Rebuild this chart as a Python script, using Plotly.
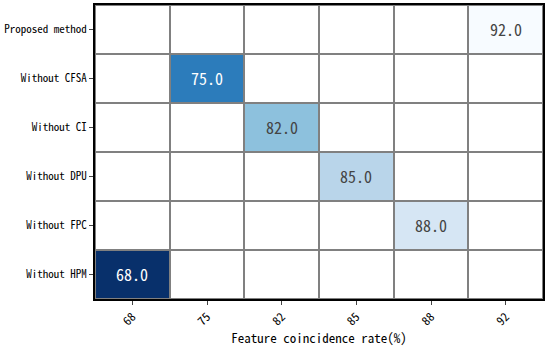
import plotly.graph_objects as go

methods = ["Proposed method", "Without CFSA", "Without CI", "Without DPU", "Without FPC", "Without HPM"]
rates = ["68", "75", "82", "85", "88", "92"]
method_rate = ["92", "75", "82", "85", "88", "68"]
method_value = [92.0, 75.0, 82.0, 85.0, 88.0, 68.0]

z = []
for m, r, v in zip(methods, method_rate, method_value):
    z.append([v if c == r else None for c in rates])

font_fam = "Noto Sans Mono CJK SC, Noto Sans CJK SC, DejaVu Sans Mono, monospace"

fig = go.Figure()
fig.add_trace(go.Heatmap(
    x=rates, y=methods, z=[[0] * len(rates) for _ in methods],
    colorscale=[[0, "white"], [1, "white"]], showscale=False,
    xgap=2, ygap=2, hoverinfo="skip"))
fig.add_trace(go.Heatmap(
    x=rates, y=methods, z=z, colorscale="Blues", reversescale=True,
    zmin=68, zmax=92, showscale=False, xgap=2, ygap=2,
    texttemplate="%{z:.1f}", textfont=dict(size=16, family=font_fam)))

fig.update_layout(
    width=550, height=349,
    margin=dict(l=95, r=7, t=5, b=50, autoexpand=False),
    plot_bgcolor="#808080", paper_bgcolor="white",
    font=dict(family=font_fam, color="black"),
)
fig.update_xaxes(type="category", tickangle=-45, ticks="outside", ticklen=4,
                 tickfont=dict(size=12), showline=True, linecolor="black", linewidth=2,
                 mirror=True, showgrid=False, zeroline=False, automargin=False,
                 title=dict(text="Feature coincidence rate(%)", font=dict(size=13), standoff=2))
fig.update_yaxes(type="category", autorange="reversed", ticks="outside", ticklen=4,
                 tickfont=dict(size=11), showline=True, linecolor="black", linewidth=2,
                 mirror=True, showgrid=False, zeroline=False, automargin=False)

fig.write_html("out.html", config={"displayModeBar": False},
               post_script="document.body.style.margin='0';")
